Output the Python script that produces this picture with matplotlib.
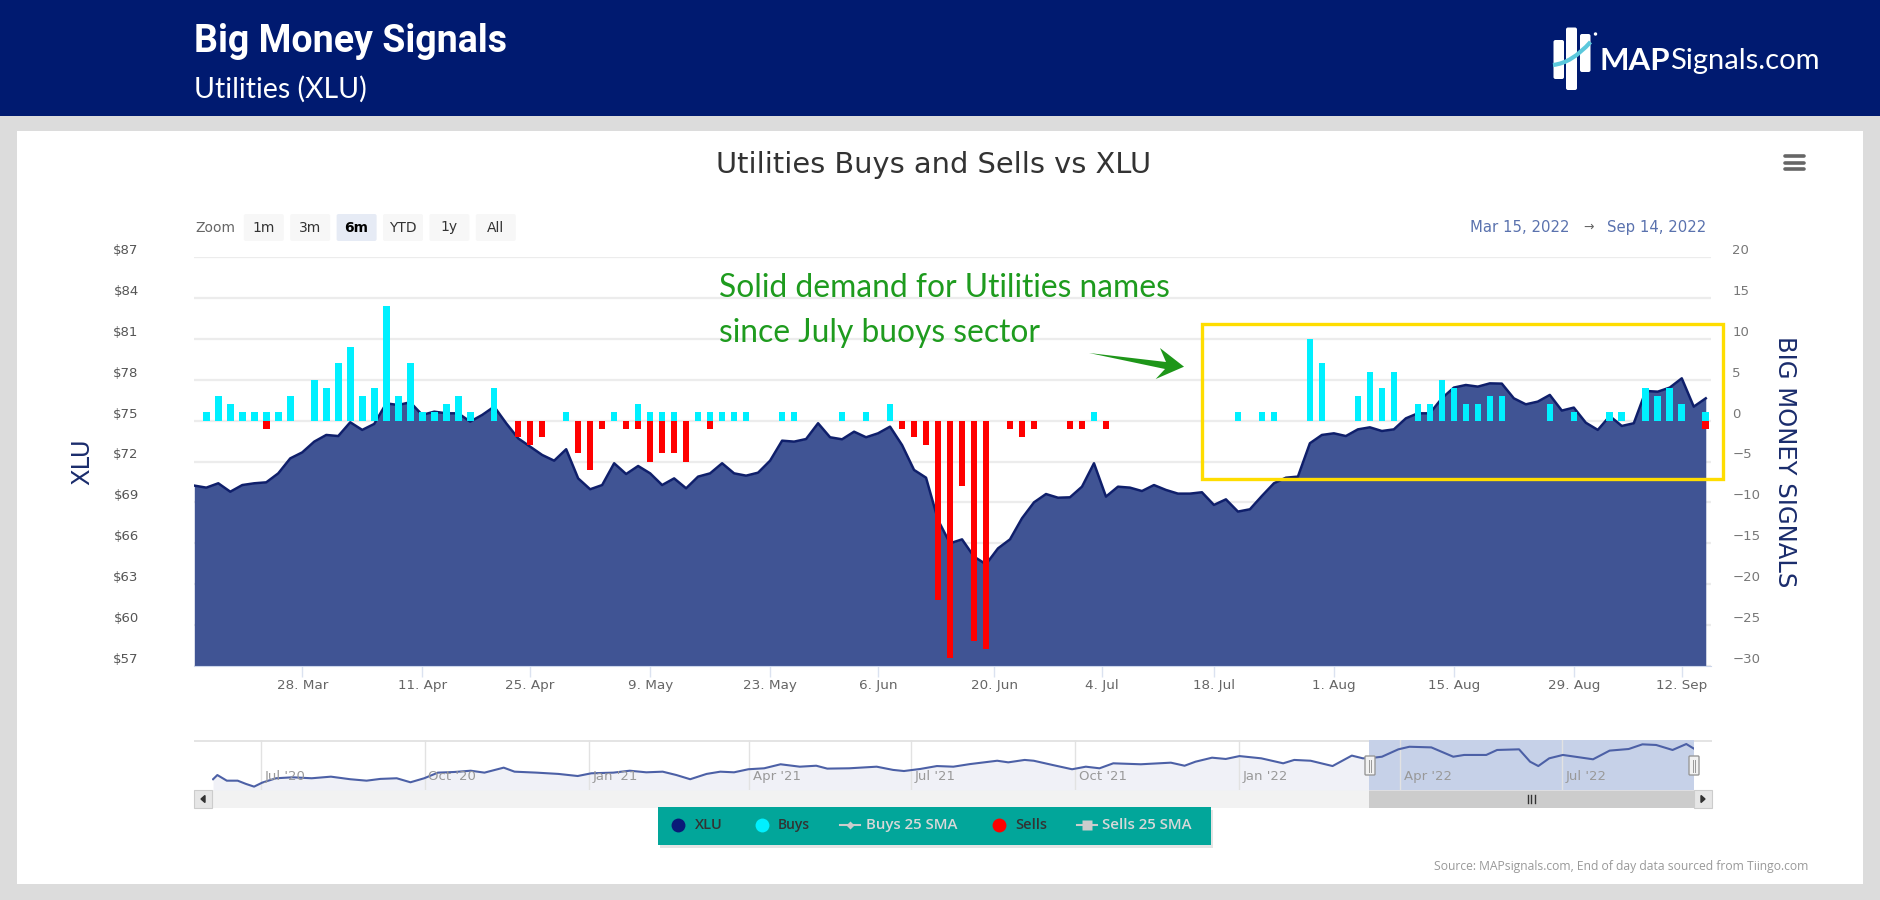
import matplotlib
matplotlib.use('Agg')
import matplotlib.pyplot as plt
from matplotlib.patches import Rectangle, FancyBboxPatch, Polygon, Circle, PathPatch
from matplotlib.path import Path

W, H = 1880, 900

# trading day index 0 = Mar 15 2022, 126 = Sep 14 2022
xlu_price = [70.23, 70.08, 70.40, 69.78, 70.27, 70.40, 70.47, 71.13, 72.23, 72.67,
             73.46, 73.95, 73.87, 74.88, 74.32, 74.76, 76.27, 76.15, 76.35, 75.42,
             75.66, 75.54, 75.54, 74.93, 75.42, 76.03, 74.81, 73.70, 73.09, 72.48,
             72.06, 72.90, 70.76, 69.96, 70.27, 71.87, 71.08, 71.67, 71.13, 70.27,
             70.76, 70.03, 70.89, 71.13, 71.87, 71.13, 70.96, 71.18, 72.06, 73.53,
             73.46, 73.65, 74.81, 73.78, 73.63, 74.19, 73.78, 74.07, 74.56, 73.21,
             71.38, 70.81, 67.70, 65.99, 66.28, 65.01, 64.45, 65.62, 66.28, 67.83,
             69.00, 69.61, 69.34, 69.37, 70.15, 71.87, 69.42, 70.15, 70.08, 69.83,
             70.27, 69.91, 69.64, 69.64, 69.74, 68.81, 69.22, 68.32, 68.49, 69.47,
             70.40, 70.81, 70.89, 73.34, 73.95, 74.07, 73.87, 74.36, 74.51, 74.24,
             74.36, 75.17, 75.54, 75.54, 76.64, 77.43, 77.62, 77.50, 77.74, 77.72,
             76.64, 76.20, 76.40, 76.89, 75.74, 75.96, 74.85, 74.32, 75.34, 74.61,
             74.81, 77.18, 77.13, 77.43, 78.11, 76.03, 76.64]
buy_idx = [1, 2, 3, 4, 5, 6, 7, 8, 10, 11, 12, 13, 14, 15, 16, 17, 18, 19, 20, 21, 22, 23, 25,
           31, 35, 37, 38, 39, 40, 42, 43, 44, 45, 46, 49, 50, 54, 56, 58, 75, 87, 89, 90,
           93, 94, 97, 98, 99, 100, 102, 103, 104, 105, 106, 107, 108, 109, 113, 115,
           118, 119, 121, 122, 123, 124, 126]
buy_vals = [1, 3, 2, 1, 1, 1, 1, 3, 5, 4, 7, 9, 3, 4, 14, 3, 7, 1, 1, 2, 3, 1, 4,
            1, 1, 2, 1, 1, 1, 1, 1, 1, 1, 1, 1, 1, 1, 1, 2, 1, 1, 1, 1,
            10, 7, 3, 6, 4, 6, 2, 2, 5, 4, 2, 2, 3, 3, 2, 1,
            1, 1, 4, 3, 4, 2, 1]
sell_idx = [6, 27, 28, 29, 32, 33, 34, 36, 37, 38, 39, 40, 41, 43, 59, 60, 61, 62, 63, 64, 65, 66,
            68, 69, 70, 73, 74, 76, 126]
sell_vals = [-1, -2, -3, -2, -4, -6, -1, -1, -1, -5, -4, -4, -5, -1, -1, -2, -3, -22, -29, -8, -27, -28,
             -1, -2, -1, -1, -1, -1, -1]

date_pos = [9, 19, 28, 38, 48, 57, 66.67, 75.67, 85, 95, 105, 115, 124]
date_labels = ['28. Mar', '11. Apr', '25. Apr', '9. May', '23. May', '6. Jun', '20. Jun',
               '4. Jul', '18. Jul', '1. Aug', '15. Aug', '29. Aug', '12. Sep']
price_ticks = [57, 60, 63, 66, 69, 72, 75, 78, 81, 84, 87]
signal_ticks = [-30, -25, -20, -15, -10, -5, 0, 5, 10, 15, 20]

# navigator, days since Jul 1 2020
nav_days = [-26.7, -24.3, -19, -12.9, -8.3, -3.7, 0.9, 8.6, 17.9, 28.6, 39.4, 50.2, 59.4, 67.1, 76.3,
            84, 91.7, 99.4, 108.6, 117.8, 125.5, 136.3, 142.4, 154.7, 167, 177.8, 185.5, 197.8, 207,
            216.3, 225.5, 233.2, 240.9, 250.1, 257.8, 265.5, 273.5, 282.4, 291.6, 302.4, 311.6, 317.8,
            330.1, 345.5, 354.7, 360.8, 370, 379.3, 388.5, 397.7, 413.1, 419.3, 428.5, 433.6, 444.4,
            455.1, 462.8, 470.5, 478.2, 493.6, 510.5, 518.2, 524.3, 533.6, 541.3, 549, 561.2, 573.5,
            579.7, 588.9, 601.2, 612, 618.2, 622.8, 628.9, 638.1, 644.3, 656.6, 668.9, 675, 687.4,
            693.5, 705.8, 712, 716.6, 722.7, 730.4, 747.3, 756.6, 767.3, 775, 782.7, 791.9, 799.6, 803.6]
nav_price = [56.2, 58.8, 55.3, 55.3, 53.3, 51.6, 54.1, 56.8, 57.4, 56.8, 57.8, 56.2, 55.3, 56.4, 56.8,
             54.3, 56.8, 60.3, 60.7, 61.5, 60.3, 63.4, 60.9, 60.3, 59.5, 58.2, 59.9, 60.3, 61.5,
             60.5, 60.9, 58.8, 56.2, 59.5, 60.9, 60.5, 62.4, 63, 65.5, 64, 64.6, 62.8,
             63, 64, 62, 61.3, 62.6, 64.4, 64, 65.6, 67.7, 66.7, 68.2, 67.7, 65,
             62.4, 64, 63, 66.1, 65.5, 66.5, 64.6, 67.1, 69.6, 68.8, 70.6, 69.2, 66.1,
             68.2, 67.7, 64.4, 70.9, 69.2, 69.4, 70.2, 74.8, 76.4, 76, 70.2, 71.3, 71.3,
             74.4, 74.8, 67.1, 64.4, 69.2, 71.3, 68.6, 74, 75, 77.9, 77.5, 74.4, 78.1, 75.4]
nav_tick_days = [0, 92, 184, 274, 365, 457, 549, 639, 730]
nav_tick_labels = ["Jul '20", "Oct '20", "Jan '21", "Apr '21", "Jul '21", "Oct '21", "Jan '22", "Apr '22", "Jul '22"]
nav_selected_from = 621.9

zoom_buttons = ['1m', '3m', '6m', 'YTD', '1y', 'All']


def px_axes(x0, y0, x1, y1, z):
    return fig.add_axes([x0 / W, 1 - y1 / H, (x1 - x0) / W, (y1 - y0) / H], zorder=z)


fig = plt.figure(figsize=(W / 100, H / 100), dpi=100, facecolor='#dcdcdc')

# page furniture, in pixels
bg = px_axes(0, 0, W, H, 0)
bg.set_xlim(0, W)
bg.set_ylim(H, 0)
bg.axis('off')
bg.add_patch(Rectangle((0, 0), W, 116, color='#001a70', lw=0))
bg.add_patch(Rectangle((17, 131), 1846, 753, color='white', lw=0))
bg.text(194, 42, 'Big Money Signals', color='white', fontsize=27, family='Roboto', weight='bold', va='center')
bg.text(194, 89, 'Utilities (XLU)', color='white', fontsize=20.4, family='Lato', va='center')

# logo
for x, y, w, h in [(1553.5, 40, 10.5, 39), (1566, 27.5, 11, 62.5), (1580, 34, 10.5, 38)]:
    bg.add_patch(FancyBboxPatch((x + 2, y + 2), w - 4, h - 4, boxstyle='round,pad=2', fc='white', ec='none'))
bg.add_patch(PathPatch(Path([(1553, 65), (1572, 63), (1590.5, 42)], [Path.MOVETO, Path.CURVE3, Path.CURVE3]),
                       fc='none', ec='#5bc8dc', lw=3))
bg.add_patch(Circle((1595.5, 34), 1, color='white'))
bg.text(1599, 69.5, 'MAP', color='white', fontsize=22.5, family='Lato', weight='bold', va='baseline')
bg.text(1670, 69.5, 'Signals.com', color='white', fontsize=21, family='Lato', va='baseline')

bg.text(934, 165, 'Utilities Buys and Sells vs XLU', color='#333333', fontsize=20.8, ha='center', va='center')
for y in (155.7, 162.5, 169.3):
    bg.plot([1785, 1804], [y, y], color='#666666', lw=2.6, solid_capstyle='round')

# range selector
bg.text(195, 227.5, 'Zoom', color='#666666', fontsize=10, va='center')
for i, name in enumerate(zoom_buttons):
    x = 243.8 + i * 46.4
    active = name == '6m'
    bg.add_patch(FancyBboxPatch((x + 2, 216), 36, 23, boxstyle='round,pad=2', lw=0, fc='#e6ebf5' if active else '#f7f7f7'))
    bg.text(x + 20, 227.5, name, color='#000000' if active else '#333333', fontsize=10,
            weight='bold' if active else 'normal', ha='center', va='center')
bg.text(1570, 227.5, 'Mar 15, 2022', color='#5a72ae', fontsize=10.7, ha='right', va='center')
bg.text(1589, 227.5, '\u2192', color='#666666', fontsize=9, ha='center', va='center')
bg.text(1706, 227.5, 'Sep 14, 2022', color='#5a72ae', fontsize=10.7, ha='right', va='center')

# main chart
ax = px_axes(194.3, 257.3, 1711.4, 665.7, 2)
ax.patch.set_visible(False)
days = list(range(len(xlu_price)))
ax.fill_between(days, xlu_price, 57, color='#405494', lw=0, zorder=2)
ax.plot(days, xlu_price, color='#0f1f6b', lw=1.8, zorder=3)
ax.set_xlim(0, 126.47)
ax.set_ylim(57, 87)
ax.set_yticks(price_ticks)
ax.set_yticklabels(['$%d' % p for p in price_ticks], fontsize=9.5, color='#555555', va='bottom')
ax.tick_params(axis='y', length=0, pad=40)
ax.set_xticks(date_pos)
ax.set_xticklabels(date_labels, fontsize=9.7, color='#666666')
ax.tick_params(axis='x', length=8, width=1, color='#dbe2f0', pad=1.5)
ax.grid(axis='y', color='#ececec', lw=1.6)
ax.set_axisbelow(True)
for s in ax.spines.values():
    s.set_visible(False)
ax.spines['bottom'].set_visible(True)
ax.spines['bottom'].set_color('#ccd6eb')
ax.set_ylabel('XLU', fontsize=17.5, color='#1a2c6c', labelpad=0)
ax.yaxis.set_label_coords((94 - 194.3) / 1517.1, 0.499)

ax2 = ax.twinx()
ax2.set_zorder(3)
ax2.patch.set_visible(False)
ax2.bar(buy_idx, buy_vals, width=0.55, color='#00f0ff', lw=0)
ax2.bar(sell_idx, sell_vals, width=0.55, color='#ff0000', lw=0)
ax2.set_xlim(0, 126.47)
ax2.set_ylim(-30, 20)
ax2.set_yticks(signal_ticks)
ax2.set_yticklabels([str(s).replace('-', '\u2212') for s in signal_ticks], fontsize=9.5, color='#777777', va='bottom', ha='left')
ax2.tick_params(axis='y', length=0, pad=15)
for s in ax2.spines.values():
    s.set_visible(False)
ax2.set_ylabel('BIG MONEY SIGNALS', fontsize=17.5, color='#1a2c6c', rotation=270, labelpad=0)
ax2.yaxis.set_label_coords((1797 - 194.3) / 1517.1, 0.5)

# navigator
bg.add_patch(Rectangle((194, 740), 1518, 1.5, color='#e4e4e4', lw=0))
nav = px_axes(212, 740, 1693.6, 790, 1)
nav.patch.set_visible(False)
nav.set_xlim(-27.3, 803.7)
nav.set_ylim(49.5, 80.6)
nav.axvspan(nav_selected_from, 803.7, color='#c6d1e8', lw=0, zorder=1)
nav.fill_between(nav_days, nav_price, 49.5, color='#f0f1f7', lw=0, zorder=0)
nav.plot(nav_days, nav_price, color='#4c60a6', lw=1.5, zorder=3)
nav.set_yticks([])
nav.set_xticks([])
for d, lab in zip(nav_tick_days, nav_tick_labels):
    nav.axvline(d, color='#e2e2e2', lw=1, zorder=2)
    nav.text(d + 2, 53.8, lab, color='#999999', fontsize=9.5, va='bottom', zorder=4)
for s in nav.spines.values():
    s.set_visible(False)

# scrollbar
bg.add_patch(Rectangle((194, 790), 1518, 18, color='#f2f2f2', lw=0))
bg.add_patch(Rectangle((194, 790), 18, 18, fc='#e6e6e6', ec='#cccccc', lw=0.8))
bg.add_patch(Rectangle((1693.6, 790), 18.4, 18, fc='#e6e6e6', ec='#cccccc', lw=0.8))
bg.add_patch(Rectangle((1369.4, 790), 324.2, 18, color='#cccccc', lw=0))
bg.add_patch(Polygon([(205, 795.5), (205, 802.5), (201, 799)], color='#333333'))
bg.add_patch(Polygon([(1701, 795.5), (1701, 802.5), (1705, 799)], color='#333333'))
for x in (1527.5, 1531, 1534.5):
    bg.plot([x, x], [795, 803], color='#333333', lw=1)

# overlay: handles, legend, callout
top = px_axes(0, 0, W, H, 5)
top.set_xlim(0, W)
top.set_ylim(H, 0)
top.axis('off')
for x in (1365, 1689):
    top.add_patch(FancyBboxPatch((x + 1, 757), 8, 17, boxstyle='round,pad=1', fc='#f2f2f2', ec='#999999', lw=1))
    top.plot([x + 4, x + 4], [760, 772], color='#999999', lw=0.7)
    top.plot([x + 6, x + 6], [760, 772], color='#999999', lw=0.7)

top.add_patch(Rectangle((660, 810), 553, 38, color='#e4e4e4', lw=0))
top.add_patch(Rectangle((658, 807.3), 553, 38, color='#02a69a', lw=0))
legend_kw = dict(family='Open Sans', weight='semibold', va='center')
for x, c in [(678, '#0a1a78'), (761.5, '#00f0ff'), (999, '#ff0000')]:
    top.plot([x], [825], 'o', ms=10, color=c, mec='none')
top.text(694.5, 825, 'XLU', color='#333333', fontsize=10.5, **legend_kw)
top.text(778, 825, 'Buys', color='#333333', fontsize=10, **legend_kw)
top.text(1015, 825, 'Sells', color='#333333', fontsize=10.5, **legend_kw)
top.text(865.5, 825, 'Buys 25 SMA', color='#d8d8d8', fontsize=10.8, **legend_kw)
top.text(1102, 825, 'Sells 25 SMA', color='#d8d8d8', fontsize=10.8, **legend_kw)
top.plot([840, 860], [825, 825], color='#cccccc', lw=1.5)
top.plot([850], [825], marker='D', ms=4.5, color='#cccccc', mec='none')
top.plot([1076.5, 1097], [825, 825], color='#cccccc', lw=1.5)
top.plot([1087], [825], marker='s', ms=7, color='#cccccc', mec='none')

top.text(1808, 866.5, 'Source: MAPsignals.com, End of day data sourced from Tiingo.com',
         color='#999999', fontsize=8.7, family='Open Sans', ha='right', va='center')

top.add_patch(Rectangle((1202, 324.3), 520.9, 155, fc='none', ec='#ffdd00', lw=2.4))
top.text(719, 288, 'Solid demand for Utilities names', color='#1e9b1e', fontsize=22.9, family='Lato', va='center')
top.text(719, 332.5, 'since July buoys sector', color='#1e9b1e', fontsize=22.9, family='Lato', va='center')
top.add_patch(Polygon([(1089, 353), (1166, 362), (1160, 348), (1184, 366.7), (1155.7, 379), (1165, 369)],
                      color='#1e9619', lw=0))

fig.savefig('out.png', dpi=100, facecolor=fig.get_facecolor())
